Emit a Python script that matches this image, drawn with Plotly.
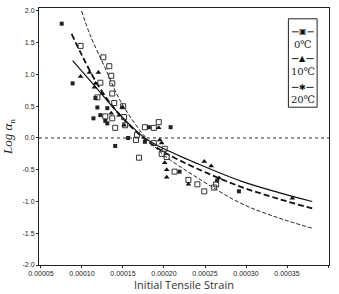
import plotly.graph_objects as go

# ---- data (strain in units of 1e-4) ----
s0_x = [0.983,1.260,1.333,1.357,1.224,1.369,1.369,1.188,1.393,1.502,1.514,1.284,1.369,1.526,1.405,
        1.767,1.876,1.936,1.671,1.659,1.876,1.972,2.009,1.695,2.033,2.129,2.298,2.407,2.491,2.612,2.636]
s0_y = [1.45,1.27,1.13,0.98,0.87,0.86,0.70,0.64,0.55,0.50,0.33,0.34,0.31,0.20,0.16,
        0.17,0.16,0.25,0.05,-0.03,-0.08,-0.25,-0.17,-0.31,-0.30,-0.53,-0.66,-0.73,-0.84,-0.78,-0.73]

s10_x = [0.983,1.091,1.200,1.164,1.152,1.248,1.357,1.453,1.490,1.514,1.936,1.948,1.972,2.009,2.033,
         2.033,2.491,2.576,2.298,2.672,3.565]
s10_y = [0.97,1.03,1.03,0.86,0.80,0.70,0.39,0.36,0.48,0.20,0.16,-0.03,-0.08,-0.39,-0.50,
         -0.62,-0.37,-0.44,-0.73,-0.63,-0.95]

s20_x = [0.753,0.886,1.164,1.188,1.309,1.140,1.309,1.224,1.284,1.405,1.562,1.767,2.081,1.816,2.190,
         2.648,2.914]
s20_y = [1.80,0.86,0.63,0.48,0.47,0.31,0.23,0.36,0.27,-0.125,0.0,-0.06,0.17,0.17,-0.53,
         -0.67,-0.84]

fit_solid_x = [0.886,1.128,1.466,1.767,2.0,2.4,2.94,3.4,3.807]
fit_solid_y = [1.22,0.86,0.36,0.0,-0.17,-0.40,-0.68,-0.86,-1.0]
fit_long_x = [0.874,1.0,1.21,1.45,1.75,2.0,2.4,2.94,3.4,3.807]
fit_long_y = [1.64,1.30,0.80,0.38,0.0,-0.22,-0.48,-0.77,-0.96,-1.11]
fit_short_x = [0.995,1.1,1.28,1.47,1.75,2.0,2.4,2.94,3.4,3.807]
fit_short_y = [2.0,1.62,1.11,0.58,0.05,-0.27,-0.62,-1.03,-1.26,-1.42]

x_ticks = [0.00005,0.00010,0.00015,0.00020,0.00025,0.00030,0.00035,0.00040]
x_tick_text = ["0.00005","0.00010","0.00015","0.00020","0.00025","0.00030","0.00035","0.00040"]
y_ticks = [2.0,1.5,1.0,0.5,0.0,-0.5,-1.0,-1.5,-2.0]
y_tick_text = ["2.0","1.5","1.0","0.5","0.0","-0.5","-1.0","-1.5","-2.0"]

legend_labels = ["0℃", "10℃", "20℃"]
legend_syms = ["▣", "▲", "✱"]

sc = lambda v: [a * 1e-4 for a in v]

fig = go.Figure()

# zero reference line
fig.add_hline(y=0, line=dict(color="#333", width=1, dash="3px,3px"))

fig.add_trace(go.Scatter(x=sc(fit_short_x), y=fit_short_y, mode="lines", line_shape="spline",
                         line=dict(color="#222", width=1, dash="4px,2px")))
fig.add_trace(go.Scatter(x=sc(fit_long_x), y=fit_long_y, mode="lines", line_shape="spline",
                         line=dict(color="#111", width=1.8, dash="6px,3px")))
fig.add_trace(go.Scatter(x=sc(fit_solid_x), y=fit_solid_y, mode="lines", line_shape="spline",
                         line=dict(color="#111", width=1.2)))

fig.add_trace(go.Scatter(x=sc(s0_x), y=s0_y, mode="markers",
                         marker=dict(symbol="square-open", size=5, color="#333", line=dict(width=1))))
fig.add_trace(go.Scatter(x=sc(s10_x), y=s10_y, mode="markers",
                         marker=dict(symbol="triangle-up", size=5, color="#111")))
fig.add_trace(go.Scatter(x=sc(s20_x), y=s20_y, mode="markers",
                         marker=dict(symbol="square", size=4, color="#222")))

# custom legend box
lx0, lx1, ly0, ly1 = 0.860, 0.959, 0.614, 0.958
fig.add_shape(type="rect", xref="paper", yref="paper", x0=lx0, x1=lx1, y0=ly0, y1=ly1,
              line=dict(color="#222", width=1), fillcolor="white", layer="above")
PH = 259
def py(p):
    return (266 - p) / PH
sym_rows = [31, 58, 87]
txt_rows = [44, 71, 99]
xc = (lx0 + lx1) / 2
for i in range(3):
    yy = py(sym_rows[i])
    fig.add_shape(type="line", xref="paper", yref="paper", x0=lx0 + 0.012, x1=lx1 - 0.012,
                  y0=yy, y1=yy, line=dict(color="#222", width=1), layer="above")
    fig.add_annotation(x=xc, y=yy, xref="paper", yref="paper", xanchor="center", yanchor="middle",
                       text=legend_syms[i], showarrow=False,
                       font=dict(family="DejaVu Sans", size=8, color="#111"), bgcolor="white",
                       borderpad=0)
    fig.add_annotation(x=xc, y=py(txt_rows[i]), xref="paper", yref="paper", xanchor="center",
                       yanchor="middle", text=legend_labels[i], showarrow=False,
                       font=dict(family="DejaVu Serif", size=10, color="#222"))

fig.update_layout(
    width=339, height=294,
    margin=dict(l=36, r=10, t=7, b=28),
    paper_bgcolor="white", plot_bgcolor="white",
    showlegend=False,
    xaxis=dict(range=[0.0000476, 0.0004012], tickvals=x_ticks, ticktext=x_tick_text,
               showgrid=False, zeroline=False, showline=True, linecolor="#222", linewidth=1,
               mirror=True, ticks="outside", ticklen=2, tickcolor="#222",
               tickfont=dict(family="Liberation Sans", size=7, color="#222"),
               title=dict(text="Initial Tensile Strain", standoff=2,
                          font=dict(family="Open Sans", size=11, color="#333"))),
    yaxis=dict(range=[-2.0, 2.047], tickvals=y_ticks, ticktext=y_tick_text,
               showgrid=False, zeroline=False, showline=True, linecolor="#222", linewidth=1,
               mirror=True, ticks="outside", ticklen=2, tickcolor="#222",
               tickfont=dict(family="Liberation Sans", size=7, color="#222"),
               title=dict(text="<i>Log α</i><sub>n</sub>", standoff=6,
                          font=dict(family="Liberation Serif", size=13, color="#222"))),
)

fig.write_html("out.html")
